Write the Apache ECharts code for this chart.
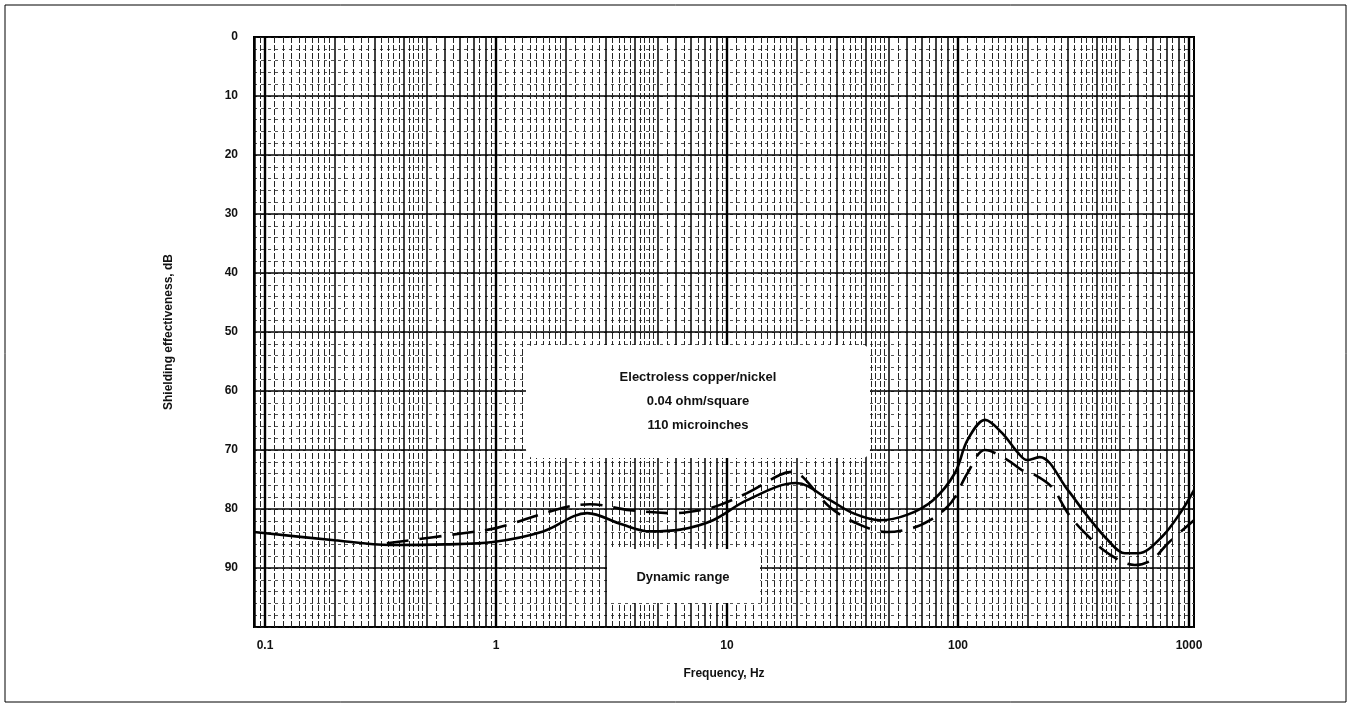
<!DOCTYPE html>
<html>
<head>
<meta charset="utf-8">
<script src="https://cdn.jsdelivr.net/npm/echarts@6/dist/echarts.min.js"></script>
<style>
  html, body { margin: 0; padding: 0; background: #fff; }
  #chart { width: 1352px; height: 708px; }
</style>
</head>
<body>
<div id="chart"></div>
<script>
// ---- data ----
const solidFreq = [0.0896, 0.2, 0.348, 0.6, 0.97, 1.6, 2.48, 3.5, 4.64, 6.27, 8.7, 12.2, 19.9, 27.9, 35.1, 45.9, 60.1, 78, 97, 110, 131, 155, 182, 199, 226, 299, 355, 446, 528, 601, 764, 933, 1051];
const solidDb   = [83.9, 85.3, 86.1, 86.0, 85.6, 83.8, 80.7, 82.6, 83.8, 83.5, 81.9, 78.5, 75.6, 78.5, 80.7, 81.9, 81.0, 78.5, 73.9, 68.3, 64.9, 67.1, 70.5, 71.7, 71.2, 76.8, 80.7, 85.3, 87.5, 87.5, 84.7, 80.2, 76.8];
const dashFreq  = [0.337, 0.72, 1.01, 1.95, 2.55, 3.8, 5.83, 7.64, 9.33, 12.2, 17, 19.1, 21.3, 27.9, 37.7, 49.3, 63.9, 75.7, 89.6, 97, 110, 131, 164, 189, 215, 255, 299, 355, 446, 583, 692, 811, 1051];
const dashDb    = [85.8, 84.1, 83.2, 79.8, 79.2, 80.2, 80.7, 80.2, 79.3, 77.3, 74.2, 73.7, 74.6, 79.7, 82.7, 83.9, 83.2, 81.9, 79.7, 78.0, 73.9, 70.0, 71.7, 73.4, 74.2, 76.3, 80.7, 84.1, 87.5, 89.5, 88.6, 85.8, 81.9];

const xTickLabels = [0.1, 1, 10, 100, 1000];
const yTickLabels = [0, 10, 20, 30, 40, 50, 60, 70, 80, 90];
const decades = [0.01, 0.1, 1, 10, 100];
const midMult  = [2, 3, 4, 5, 6, 7, 8, 9];
const fineMult = [1.1, 1.2, 1.3, 1.4, 1.5, 1.6, 1.7, 1.8, 1.9, 2.2, 2.4, 2.6, 2.8, 3.2, 3.4, 3.6, 3.8, 4.2, 4.4, 4.6, 4.8, 5.5, 6.5, 7.5, 8.5, 9.5];

const annotLines = ['Electroless copper/nickel', '0.04 ohm/square', '110 microinches'];
const dynLabel = 'Dynamic range';

// ---- build ----
const X_MIN = 0.0896, X_MAX = 1051;
const inRange = v => v >= X_MIN && v <= X_MAX;
const midVals = [], fineVals = [];
decades.forEach(d => {
  midMult.forEach(m => { const v = +(d * m).toPrecision(6); if (inRange(v)) midVals.push(v); });
  fineMult.forEach(m => { const v = +(d * m).toPrecision(6); if (inRange(v)) fineVals.push(v); });
});

const FONT = '"Liberation Sans", Arial, sans-serif';
const pair = (xs, ys) => xs.map((x, i) => [x, ys[i]]);

function logAxis(extra) {
  return Object.assign({
    type: 'log', logBase: 10, min: X_MIN, max: X_MAX, gridIndex: 0, position: 'bottom',
    axisLine: { show: false }, axisLabel: { show: false }, axisTick: { show: false },
    splitLine: { show: false }, minorTick: { show: false }, minorSplitLine: { show: false }
  }, extra);
}

const chart = echarts.init(document.getElementById('chart'), null, { renderer: 'canvas' });
chart.setOption({
  animation: false,
  backgroundColor: '#fff',
  grid: { left: 254, right: 158, top: 37, bottom: 81, show: true, borderColor: '#000', borderWidth: 2, backgroundColor: '#fff' },
  xAxis: [
    logAxis({
      axisTick: { show: false, customValues: fineVals },
      splitLine: { show: true, lineStyle: { color: '#262626', width: 1, type: [6, 2] } }
    }),
    logAxis({
      axisTick: { show: false, customValues: midVals },
      splitLine: { show: true, lineStyle: { color: '#000', width: 1.5 } }
    }),
    logAxis({
      name: 'Frequency, Hz', nameLocation: 'middle', nameGap: 41,
      nameTextStyle: { fontFamily: FONT, fontWeight: 'bold', fontSize: 12, color: '#111' },
      axisTick: { show: false, customValues: xTickLabels },
      axisLabel: { show: true, customValues: xTickLabels, margin: 13, fontFamily: FONT, fontWeight: 'bold', fontSize: 12, color: '#111',
        formatter: v => String(+(+v).toPrecision(3)) },
      splitLine: { show: true, lineStyle: { color: '#000', width: 2.4 } }
    })
  ],
  yAxis: [
    {
      type: 'value', inverse: true, min: 0, max: 100, interval: 2, gridIndex: 0, position: 'left',
      axisLine: { show: false }, axisTick: { show: false }, axisLabel: { show: false },
      splitLine: { show: true, lineStyle: { color: '#555', width: 1, type: [3, 4] } }
    },
    {
      type: 'value', inverse: true, min: 0, max: 100, interval: 10, gridIndex: 0, position: 'left',
      name: 'Shielding effectiveness, dB', nameLocation: 'middle', nameGap: 79, nameRotate: 90,
      nameTextStyle: { fontFamily: FONT, fontWeight: 'bold', fontSize: 12, color: '#111' },
      axisLine: { show: false }, axisTick: { show: false },
      axisLabel: { customValues: yTickLabels, margin: 16, padding: [8, 0, 0, 0], fontFamily: FONT, fontWeight: 'bold', fontSize: 12, color: '#111' },
      splitLine: { show: true, lineStyle: { color: '#000', width: 1.5 } }
    }
  ],
  series: [
    {
      type: 'line', xAxisIndex: 2, yAxisIndex: 1, data: pair(solidFreq, solidDb),
      smooth: 0.35, symbol: 'none', z: 10,
      lineStyle: { color: '#000', width: 2.6 }
    },
    {
      type: 'line', xAxisIndex: 2, yAxisIndex: 1, data: pair(dashFreq, dashDb),
      smooth: 0.35, symbol: 'none', z: 10,
      lineStyle: { color: '#000', width: 2.6, type: [22, 11] }
    }
  ],
  graphic: [
    { type: 'rect', z: 5, shape: { x: 526, y: 345, width: 344, height: 113, r: 8 }, style: { fill: '#fff', stroke: null } },
    { type: 'rect', z: 5, shape: { x: 607, y: 549, width: 153, height: 54, r: 4 }, style: { fill: '#fff', stroke: null } },
    { type: 'text', z: 6, x: 698, y: 377, style: { text: annotLines[0], fontFamily: FONT, fontWeight: 'bold', fontSize: 13, fill: '#111', align: 'center', verticalAlign: 'middle' } },
    { type: 'text', z: 6, x: 698, y: 401, style: { text: annotLines[1], fontFamily: FONT, fontWeight: 'bold', fontSize: 13, fill: '#111', align: 'center', verticalAlign: 'middle' } },
    { type: 'text', z: 6, x: 698, y: 425, style: { text: annotLines[2], fontFamily: FONT, fontWeight: 'bold', fontSize: 13, fill: '#111', align: 'center', verticalAlign: 'middle' } },
    { type: 'text', z: 6, x: 683, y: 577, style: { text: dynLabel, fontFamily: FONT, fontWeight: 'bold', fontSize: 13, fill: '#111', align: 'center', verticalAlign: 'middle' } },
    { type: 'rect', z: 1, shape: { x: 5, y: 5, width: 1341, height: 697 }, style: { fill: null, stroke: '#000', lineWidth: 1 }, silent: true }
  ]
});
</script>
</body>
</html>
